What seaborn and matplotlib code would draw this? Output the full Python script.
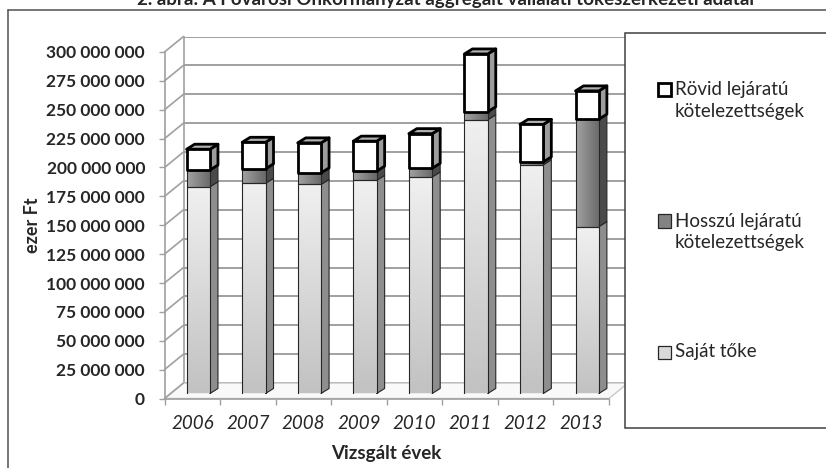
import numpy as np
import pandas as pd
import seaborn as sns
import matplotlib.pyplot as plt
from matplotlib.patches import Polygon, Rectangle
from matplotlib.lines import Line2D
from matplotlib.transforms import IdentityTransform
from matplotlib.colors import LinearSegmentedColormap

# Aggregated capital structure, thousand HUF (ezer Ft)
years = ["2006", "2007", "2008", "2009", "2010", "2011", "2012", "2013"]
sajat_toke = [179_000_000, 182_000_000, 181_000_000, 184_500_000,
              187_500_000, 237_000_000, 198_000_000, 144_500_000]
hosszu_lejaratu = [14_500_000, 12_500_000, 10_000_000, 8_000_000,
                   7_500_000, 7_000_000, 2_500_000, 93_000_000]
rovid_lejaratu = [18_000_000, 23_000_000, 26_000_000, 26_000_000,
                  30_000_000, 50_000_000, 32_500_000, 24_500_000]
legend_labels = [["Rövid lejáratú", "kötelezettségek"],
                 ["Hosszú lejáratú", "kötelezettségek"],
                 ["Saját tőke"]]
y_ticks = list(range(0, 300_000_001, 25_000_000))
title = "2. ábra: A Fővárosi Önkormányzat aggregált vállalati tőkeszerkezeti adatai"

sns.set_theme(style="white")
plt.rcParams["font.family"] = ["Lato", "DejaVu Sans"]

TEXT = "#262626"
GRID = "#a0a0a0"

W, H = 826, 468
fig = plt.figure(figsize=(W / 100, H / 100), dpi=100)
fig.patch.set_facecolor("white")


def box(x0, y0, x1, y1):
    """Pixel box (origin top-left) -> figure-fraction rect."""
    return [x0 / W, 1 - y1 / H, (x1 - x0) / W, (y1 - y0) / H]


def fx(x):
    return x / W


def fy(y):
    return 1 - y / H


# outer frame and caption along the top edge
fig.add_artist(Line2D([fx(8), fx(8)], [fy(9.5), 0], color="#505050", lw=1.1))
fig.add_artist(Line2D([fx(8), 1], [fy(9.5), fy(9.5)], color="#505050", lw=1.1))
fig.text(fx(446), fy(5.5), title, ha="center", va="baseline",
         fontsize=13.5, fontweight="bold", color=TEXT)

# geometry of the pseudo-3D box (pixels)
FL, FR, FB, FT = 164.5, 609, 398.5, 52      # front plane
WDX, WDY = 19, 15.5                          # wall depth offset
BDX, BDY = 6, 5                              # bar plane offset
SDX, SDY = 8, 5                              # bar depth (side / top faces)

# back wall with gridlines
ax_back = fig.add_axes(box(FL + WDX, FT - WDY, FR + WDX, FB - WDY))
ax_back.set_xlim(-0.5, 7.5)
ax_back.set_ylim(0, 300_000_000)
ax_back.set_yticks(y_ticks)
ax_back.set_xticks([])
ax_back.grid(axis="y", color=GRID, lw=1.4)
ax_back.tick_params(length=0, labelleft=False, labelbottom=False)
for s in ["top", "right", "bottom"]:
    ax_back.spines[s].set_visible(False)
ax_back.spines["left"].set_color(GRID)
ax_back.spines["left"].set_linewidth(1.2)

# floor
floor = Polygon([(fx(FL), fy(FB)), (fx(FR), fy(FB)),
                 (fx(FR + WDX), fy(FB - WDY)), (fx(FL + WDX), fy(FB - WDY))],
                closed=True, transform=fig.transFigure, facecolor="#f9f9f9",
                edgecolor="#c8c8c8", lw=1.0, clip_on=False, zorder=3)
ax_back.add_artist(floor)

# front axis with ticks and labels
ax_front = fig.add_axes(box(FL, FT, FR, FB))
ax_front.patch.set_visible(False)
ax_front.set_xlim(-0.5, 7.5)
ax_front.set_ylim(0, 300_000_000)
ax_front.set_yticks(y_ticks)
ax_front.set_yticklabels([f"{v:,}".replace(",", " ") for v in y_ticks],
                         fontweight="bold", fontsize=12.5, color=TEXT)
ax_front.set_xticks(range(len(years)))
ax_front.set_xticklabels(years, fontstyle="italic", fontsize=13.5, color=TEXT)
ax_front.set_xticks(np.arange(-0.5, len(years), 1.0), minor=True)
ax_front.tick_params(axis="y", length=4, width=1, color=GRID, pad=10, left=True)
ax_front.tick_params(axis="x", which="major", length=0, pad=12)
ax_front.tick_params(axis="x", which="minor", length=4, width=1, color=GRID,
                     bottom=True)
for s in ["top", "right"]:
    ax_front.spines[s].set_visible(False)
for s in ["left", "bottom"]:
    ax_front.spines[s].set_color(GRID)
    ax_front.spines[s].set_linewidth(1.2)
ax_front.grid(False)

# diagonal connectors from front ticks to the back wall
for v in y_ticks:
    px, py = ax_front.transData.transform((-0.5, v))
    ax_front.add_line(Line2D([px, px + WDX], [py, py + WDY], color=GRID, lw=1.2,
                             transform=IdentityTransform(), clip_on=False))

# bars
ax_bars = fig.add_axes(box(FL + BDX, FT - BDY, FR + BDX, FB - BDY))
ax_bars.patch.set_visible(False)
ax_bars.set_axis_off()

df = pd.DataFrame({"ev": years, "sajat": sajat_toke,
                   "hosszu": hosszu_lejaratu, "rovid": rovid_lejaratu})
base_h = df["sajat"].to_numpy()
base_r = (df["sajat"] + df["hosszu"]).to_numpy()

bw = 0.42
sns.barplot(data=df, x="ev", y="sajat", ax=ax_bars, width=bw, color="#dcdcdc",
            errorbar=None, edgecolor="#262626", linewidth=0.8, saturation=1)
sns.barplot(data=df, x="ev", y="hosszu", ax=ax_bars, width=bw, color="#7f7f7f",
            errorbar=None, edgecolor="#262626", linewidth=0.8, saturation=1,
            bottom=base_h)
sns.barplot(data=df, x="ev", y="rovid", ax=ax_bars, width=bw, color="white",
            errorbar=None, edgecolor="black", linewidth=2.0, saturation=1,
            bottom=base_r)
ax_bars.set_xlim(-0.5, 7.5)
ax_bars.set_ylim(0, 300_000_000)
ax_bars.set_axis_off()

styles = [
    dict(side="#8e8e8e", top="#b8b8b8", ec="#262626", lw=0.8,
         cmap=LinearSegmentedColormap.from_list("s", ["#c2c2c2", "#f0f0f0"]),
         vertical=True),
    dict(side="#4a4a4a", top="#6a6a6a", ec="#262626", lw=0.8,
         cmap=LinearSegmentedColormap.from_list("h", ["#a2a2a2", "#686868"]),
         vertical=False),
    dict(side="#9c9c9c", top="#b0b0b0", ec="black", lw=2.0, cmap=None,
         vertical=False),
]

for k, (cont, st) in enumerate(zip(ax_bars.containers, styles)):
    for rect in cont.patches:
        x0, y0 = rect.get_x(), rect.get_y()
        x1, y1 = x0 + rect.get_width(), y0 + rect.get_height()
        (dx0, dy0), (dx1, dy1) = ax_bars.transData.transform([(x0, y0), (x1, y1)])
        side = Polygon([(dx1, dy0), (dx1 + SDX, dy0 + SDY),
                        (dx1 + SDX, dy1 + SDY), (dx1, dy1)],
                       closed=True, transform=IdentityTransform(),
                       facecolor=st["side"], edgecolor=st["ec"], lw=st["lw"],
                       joinstyle="round", zorder=1 + 0.1 * k)
        ax_bars.add_patch(side)
        if k == len(styles) - 1:
            top = Polygon([(dx0, dy1), (dx0 + SDX, dy1 + SDY),
                           (dx1 + SDX, dy1 + SDY), (dx1, dy1)],
                          closed=True, transform=IdentityTransform(),
                          facecolor=st["top"], edgecolor=st["ec"], lw=st["lw"],
                          joinstyle="round", zorder=1 + 0.1 * k)
            ax_bars.add_patch(top)
        if st["cmap"] is not None:
            if st["vertical"]:
                grad = np.linspace(1, 0, 64).reshape(-1, 1)
            else:
                grad = np.linspace(0, 1, 64).reshape(1, -1)
            ax_bars.imshow(grad, extent=(x0, x1, y0, y1), aspect="auto",
                           cmap=st["cmap"], vmin=0, vmax=1,
                           interpolation="bilinear", zorder=2)
            rect.set_facecolor("none")
        rect.set_joinstyle("round")
        rect.set_zorder(3 + 0.1 * k)

ax_bars.set_xlim(-0.5, 7.5)
ax_bars.set_ylim(0, 300_000_000)

# axis titles
fig.text(fx((FL + FR) / 2), fy(453), "Vizsgált évek", ha="center", va="center",
         fontsize=13.5, fontweight="bold", color=TEXT)
fig.text(fx(32), fy((FT + FB) / 2), "ezer Ft", ha="center", va="center",
         rotation=90, fontsize=13, fontweight="bold", color=TEXT)

# legend panel
fig.add_artist(Rectangle((fx(625), fy(428)), 1 - fx(625) + 0.01, fy(33.3) - fy(428),
                         transform=fig.transFigure, facecolor="white",
                         edgecolor="#404040", lw=1.1, zorder=5, clip_on=False))
legend_rows = [(90, "white", "black", 2.0),
               (221, "#838383", "#262626", 0.9),
               (352, "#d9d9d9", "#262626", 0.9)]
for (yc, fc, ec, lw), lines in zip(legend_rows, legend_labels):
    fig.add_artist(Rectangle((fx(657.5), fy(yc + 6.5)), fx(670.5) - fx(657.5),
                             fy(yc - 6.5) - fy(yc + 6.5),
                             transform=fig.transFigure, facecolor=fc,
                             edgecolor=ec, lw=lw, zorder=6))
    for i, line in enumerate(lines):
        fig.text(fx(675), fy(yc + i * 21.7), line, ha="left", va="center",
                 fontsize=13.5, color=TEXT, zorder=7)

fig.savefig("out.png", dpi=100)
